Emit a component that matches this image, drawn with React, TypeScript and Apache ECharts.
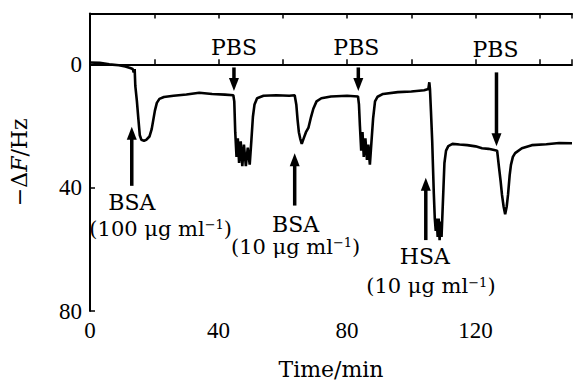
import React, { useEffect, useRef } from "react";
import * as echarts from "echarts";

// Frequency-shift trace (time in min, −ΔF in Hz)
const traceTime = [
  0, 3, 6, 9, 11, 12.5, 13.3, 13.6, 13.9,
  14.1, 14.6, 15.0, 15.5, 16.0, 16.8, 17.5, 18.5, 19.2, 19.7, 20.2, 20.8, 21.6, 23, 26, 30, 34, 38, 42, 44.6,
  44.9, 45.2, 45.6, 46.0, 46.4, 46.9, 47.4, 47.9, 48.5, 49.1, 49.7, 50.2, 50.7, 51.2, 52, 54, 58, 62, 63.7,
  64.2, 64.6, 65.0, 65.4, 65.9, 66.5, 67.2, 68, 68.8, 69.5, 70.5, 72, 75, 80, 83.4,
  83.7, 84.0, 84.4, 84.8, 85.2, 85.7, 86.2, 86.6, 87.1, 87.6, 88.1, 88.7, 89.5, 91.2, 95.8, 100, 104, 105.3, 105.6, 105.8,
  106.1, 106.5, 106.7, 107.0, 107.3, 107.6, 107.9, 108.2, 108.5, 108.8, 109.1, 109.4, 109.7, 110.0, 110.3, 110.8, 111.5,
  112.8, 115, 117.4, 120, 122, 124, 125.8, 126.7, 127.3, 127.8, 128.2, 128.7, 129.2, 129.7, 130.1, 130.6, 131, 131.6,
  132.3, 134.4, 137.5, 142, 146, 150,
];
const traceDeltaF = [
  -0.6, -0.5, 0, 0.3, 0.7, 1.2, 1.5, 2.6, 1.5,
  7, 12, 17, 23, 24.5, 24.8, 24.5, 23.4, 21, 18, 15, 12.5, 11.2, 10.6, 10.2, 9.8, 9.2, 9.6, 9.8, 10,
  12, 22, 30, 24, 32, 25, 33, 26, 33, 27, 32.5, 25, 17, 13, 11, 10.2, 10, 10.2, 10,
  13, 18, 22, 24, 25.8, 24, 22, 20.5, 17, 14.4, 12, 11, 10.4, 10.2, 10.4,
  13, 20, 28, 22, 30, 24, 31, 26, 32.5, 25, 17.6, 12, 10.5, 9.6, 9, 8.8, 8.4, 8, 5.8, 8,
  15, 25, 32, 42, 50, 54, 50, 56, 50, 57, 51, 56, 48, 40, 32, 28, 26.5,
  25.8, 26, 26.2, 26.6, 27.2, 27.4, 27.8, 28, 33.6, 38, 42.2, 46, 48.6, 46, 42.2, 36, 32.6, 30,
  28.8, 27.2, 26.2, 25.9, 25.5, 25.6,
];

// Injection arrows (time, tail value, tip value)
const arrowTime = [13.0, 44.8, 63.7, 83.5, 104.5, 126.5];
const arrowTail = [39.4, 1.0, 45.8, 1.0, 57.0, 2.6];
const arrowTip = [20.2, 8.6, 28.8, 8.6, 36.8, 26.6];

// Annotation labels
const labelText = [
  "PBS", "PBS", "PBS",
  "BSA", "(100 μg ml{sup|−1})",
  "BSA", "(10 μg ml{sup|−1})",
  "HSA", "(10 μg ml{sup|−1})",
];
const labelTime = [44.8, 82.9, 126.2, 13.0, 22.0, 64.0, 64.0, 104.2, 106.1];
const labelValue = [-5.4, -5.4, -4.8, 44.8, 53.4, 51.8, 59.2, 62.4, 72.0];

const xTicks = [0, 40, 80, 120];
const yTicks = [0, 40, 80];

const SERIF = "DejaVu Serif";
const DIGITS = "Liberation Serif";

export default function App() {
  const ref = useRef<HTMLDivElement>(null);
  useEffect(() => {
    if (!ref.current) return;
    const chart = echarts.init(ref.current, undefined, { renderer: "svg" });
    const axisLine = { show: true, lineStyle: { color: "#000", width: 2 } };
    const tickStyle = { color: "#000", width: 1.5 };
    const option: any = {
      animation: false,
      backgroundColor: "#fff",
      grid: { left: 90, right: 0, top: 13.5, bottom: 70, containLabel: false },
      xAxis: [
        {
          type: "value",
          min: 0,
          max: 150,
          interval: 20,
          position: "bottom",
          axisLine,
          axisTick: { show: true, inside: true, length: 5, lineStyle: tickStyle },
          axisLabel: {
            formatter: (v: number) => (xTicks.includes(v) ? String(v) : ""),
            fontFamily: DIGITS,
            fontSize: 23,
            color: "#000",
            margin: 8,
          },
          splitLine: { show: false },
          name: "Time/min",
          nameLocation: "middle",
          nameGap: 47,
          nameTextStyle: { fontFamily: SERIF, fontSize: 22, color: "#000" },
        },
        {
          type: "value",
          min: 0,
          max: 150,
          interval: 20,
          position: "top",
          axisLine,
          axisTick: { show: true, inside: true, length: 5, lineStyle: tickStyle },
          axisLabel: { show: false },
          splitLine: { show: false },
        },
      ],
      yAxis: [
        {
          type: "value",
          inverse: true,
          min: -16.5,
          max: 80,
          position: "left",
          axisLine,
          axisTick: { show: true, inside: true, length: 5, lineStyle: tickStyle, customValues: yTicks },
          axisLabel: {
            customValues: yTicks,
            fontFamily: DIGITS,
            fontSize: 23,
            color: "#000",
            margin: 8,
          },
          splitLine: { show: false },
          name: "−Δ{i|F}/Hz",
          nameLocation: "middle",
          nameGap: 60,
          nameRotate: 90,
          nameTextStyle: {
            fontFamily: SERIF,
            fontSize: 22,
            color: "#000",
            rich: { i: { fontStyle: "italic", fontFamily: SERIF, fontSize: 22, color: "#000" } },
          },
        },
      ],
      series: [
        {
          type: "line",
          data: traceTime.map((t, i) => [t, traceDeltaF[i]]),
          showSymbol: false,
          symbol: "none",
          lineStyle: { color: "#000", width: 2.6 },
          z: 3,
        },
        {
          type: "custom",
          data: arrowTime.map((t, i) => [t, arrowTail[i], arrowTip[i]]),
          encode: { x: 0, y: [1, 2] },
          renderItem: (_p: any, api: any) => {
            const x = api.value(0);
            const p0 = api.coord([x, api.value(1)]);
            const p1 = api.coord([x, api.value(2)]);
            const dir = p1[1] > p0[1] ? 1 : -1;
            const headH = 13;
            const headW = 10;
            const baseY = p1[1] - dir * headH;
            return {
              type: "group",
              children: [
                {
                  type: "line",
                  shape: { x1: p0[0], y1: p0[1], x2: p0[0], y2: baseY + dir * 1 },
                  style: { stroke: "#000", lineWidth: 3.5 },
                },
                {
                  type: "polygon",
                  shape: {
                    points: [
                      [p1[0] - headW / 2, baseY],
                      [p1[0] + headW / 2, baseY],
                      [p1[0], p1[1]],
                    ],
                  },
                  style: { fill: "#000" },
                },
              ],
            };
          },
          z: 4,
        },
        {
          type: "custom",
          data: labelTime.map((t, i) => [t, labelValue[i], i]),
          encode: { x: 0, y: 1 },
          renderItem: (_p: any, api: any) => {
            const p = api.coord([api.value(0), api.value(1)]);
            const idx = api.value(2);
            const txt = labelText[idx];
            return {
              type: "text",
              x: p[0],
              y: p[1],
              style: {
                text: txt,
                fontFamily: SERIF,
                fontSize: txt.length <= 3 ? 22 : 21,
                fill: "#000",
                align: "center",
                verticalAlign: "middle",
                rich: {
                  sup: { fontFamily: SERIF, fontSize: 13, fill: "#000", verticalAlign: "top" },
                },
              },
            };
          },
          z: 5,
        },
      ],
    };
    chart.setOption(option);
    return () => chart.dispose();
  }, []);
  return <div ref={ref} style={{ width: 575, height: 385, position: "absolute", left: 0, top: 0, background: "#fff" }} />;
}
